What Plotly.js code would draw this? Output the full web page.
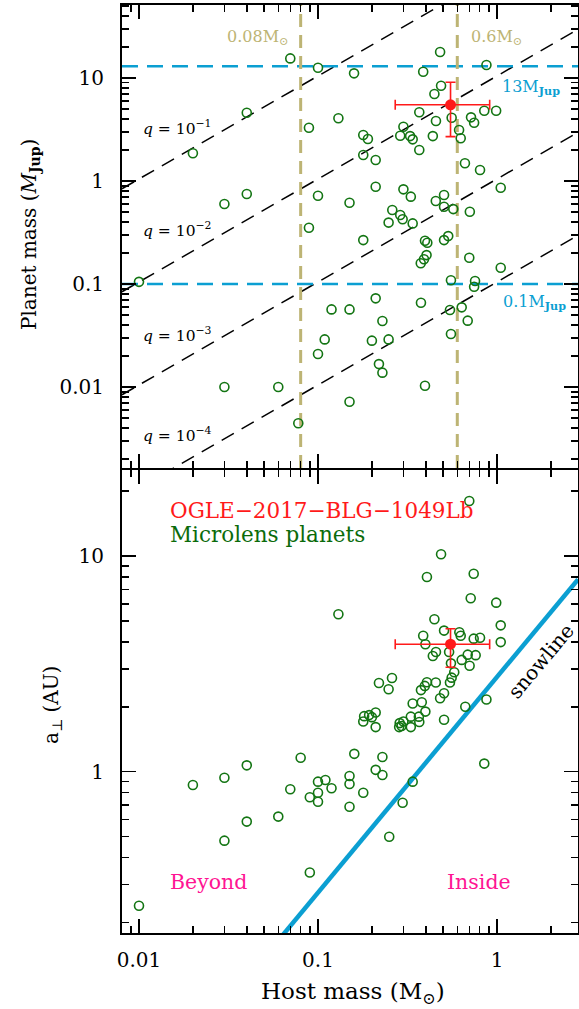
<!DOCTYPE html>
<html><head><meta charset="utf-8">
<script src="https://cdn.plot.ly/plotly-3.0.1.min.js"></script>
<style>html,body{margin:0;padding:0;background:#fff}#plot{width:579px;height:1009px}</style>
</head><body><div id="plot"></div>
<script>
// ---------- DATA ----------
// Top panel: host mass (M_sun) vs planet mass (M_Jup)
const hostMassTop = [0.070,0.481,0.100,0.159,0.387,0.873,0.487,0.447,0.130,0.089,
  0.368,0.456,0.558,0.716,0.745,0.849,0.989,0.300,0.288,0.327,
  0.338,0.438,0.614,0.627,0.179,0.190,0.368,0.179,0.210,0.662,
  0.804,1.049,0.210,0.300,0.330,0.100,0.150,0.455,0.506,0.506,
  0.570,0.705,0.260,0.288,0.297,0.248,0.338,0.089,0.179,0.396,
  0.408,0.506,0.534,0.700,0.404,0.391,0.375,1.049,0.553,0.754,
  0.745,0.210,0.376,0.119,0.150,0.546,0.635,0.229,0.686,0.109,
  0.200,0.248,0.553,0.100,0.219,0.229,0.396,0.060,0.150,0.0776,
  0.040,0.020,0.030,0.040,0.010,0.030];
const planetMass = [15.5,17.9,12.6,11.1,11.5,13.4,8.42,7.0,4.07,3.29,
  4.65,3.83,4.12,4.15,3.68,4.82,4.82,3.37,2.75,2.73,
  2.54,2.73,3.13,2.60,2.80,2.56,2.00,1.79,1.60,1.49,
  1.28,0.861,0.881,0.830,0.705,0.720,0.615,0.640,0.731,0.563,
  0.534,0.503,0.523,0.468,0.425,0.395,0.388,0.352,0.267,0.263,
  0.252,0.267,0.292,0.180,0.191,0.174,0.159,0.144,0.109,0.107,
  0.094,0.0726,0.0658,0.0567,0.0567,0.056,0.0594,0.0438,0.0441,0.0290,
  0.0282,0.029,0.0327,0.0209,0.0167,0.0138,0.0103,0.0100,0.0072,0.00445,
  4.6,1.86,0.598,0.748,0.105,0.0100];
// Bottom panel: host mass (M_sun) vs projected separation (AU)
const hostMassBottom = [0.487,0.406,0.741,0.713,0.990,0.130,0.447,1.049,1.049,0.506,
  0.616,0.627,0.387,0.398,0.741,0.804,0.540,0.553,0.456,0.438,
  0.686,0.760,0.635,0.703,0.577,0.558,0.546,0.259,0.219,0.248,
  0.406,0.455,0.395,0.376,0.506,0.481,0.380,0.338,0.665,0.873,
  0.398,0.210,0.181,0.193,0.200,0.179,0.210,0.330,0.366,0.368,
  0.506,0.286,0.293,0.284,0.300,0.330,0.700,0.080,0.040,0.030,
  0.020,0.1595,0.229,0.210,0.229,0.150,0.150,0.100,0.110,0.100,
  0.090,0.100,0.119,0.070,0.179,0.150,0.338,0.297,0.060,0.040,
  0.030,0.250,0.090,0.010,0.849];
const aPerp = [10.2,8.0,8.28,6.37,6.08,5.37,5.09,4.77,3.99,4.51,
  4.43,4.27,4.27,3.90,4.14,4.18,3.59,3.18,3.59,3.44,
  3.49,3.47,3.30,3.10,2.89,2.73,2.59,2.72,2.58,2.41,
  2.60,2.59,2.50,2.39,2.31,2.19,2.10,2.07,2.00,2.16,
  1.90,1.88,1.81,1.83,1.79,1.71,1.61,1.80,1.80,1.70,
  1.74,1.68,1.63,1.61,1.71,1.61,18.0,1.16,1.07,0.938,
  0.868,1.21,1.17,1.02,0.965,0.955,0.877,0.899,0.915,0.799,
  0.761,0.726,0.838,0.829,0.799,0.688,0.899,0.718,0.619,0.587,
  0.479,0.499,0.341,0.239,1.09];
// OGLE-2017-BLG-1049Lb
const ogleHost = [0.55], ogleHostErrPlus = [0.36], ogleHostErrMinus = [0.28];
const oglePlanet = [5.5], oglePlanetErrPlus = [3.6], oglePlanetErrMinus = [2.8];
const ogleA = [3.9], ogleAErrPlus = [0.7], ogleAErrMinus = [0.85];
// Reference lines
const massRatios = [1e-1, 1e-2, 1e-3, 1e-4];
const massRatioLabels = ['10<sup>−1</sup>','10<sup>−2</sup>','10<sup>−3</sup>','10<sup>−4</sup>'];
const hostLimits = [0.08, 0.6];
const planetLimits = [13, 0.1];
const snowlineCoef = 2.75; // AU per M_sun
const MSUN_IN_MJUP = 1047.6;
// Ticks
const xTickVals = [0.01, 0.1, 1], xTickText = ['0.01','0.1','1'];
const yTopTickVals = [0.01, 0.1, 1, 10], yTopTickText = ['0.01','0.1','1','10'];
const yBotTickVals = [1, 10], yBotTickText = ['1','10'];

// ---------- RANGES ----------
const xRange = [-2.095, 0.4525];
const yTopRange = [-2.786, 1.709];
const yBotRange = [-0.748, 1.399];
const xMin = Math.pow(10, xRange[0]), xMax = Math.pow(10, xRange[1]);
const yTopMin = Math.pow(10, yTopRange[0]), yTopMax = Math.pow(10, yTopRange[1]);

function minorTicks(lo, hi) {
  const out = [];
  for (let e = lo; e <= hi; e++) for (let d = 2; d <= 9; d++) out.push(d * Math.pow(10, e));
  return out;
}

const GREEN = '#137513', BLUE = '#0b9fd2', KHAKI = '#bdb474', RED = '#ff1a1a', PINK = '#ff1493';

const traces = [];
massRatios.forEach(q => traces.push({
  x: [xMin, xMax], y: [q * MSUN_IN_MJUP * xMin, q * MSUN_IN_MJUP * xMax],
  xaxis: 'x2', yaxis: 'y2', mode: 'lines', hoverinfo: 'skip',
  line: {color: 'black', width: 1.5, dash: '14px,9px'}
}));
planetLimits.forEach(p => traces.push({
  x: [xMin, xMax], y: [p, p], xaxis: 'x2', yaxis: 'y2', mode: 'lines', hoverinfo: 'skip',
  line: {color: BLUE, width: 2.5, dash: '16px,9px'}
}));
hostLimits.forEach(h => traces.push({
  x: [h, h], y: [yTopMin, yTopMax], xaxis: 'x2', yaxis: 'y2', mode: 'lines', hoverinfo: 'skip',
  line: {color: KHAKI, width: 3, dash: '13px,8px'}
}));
traces.push({
  x: [xMin, xMax], y: [snowlineCoef * xMin, snowlineCoef * xMax], xaxis: 'x', yaxis: 'y',
  mode: 'lines', hoverinfo: 'skip', line: {color: BLUE, width: 4.5}
});
traces.push({x: hostMassTop, y: planetMass, xaxis: 'x2', yaxis: 'y2', mode: 'markers',
  marker: {symbol: 'circle-open', size: 9, color: GREEN, line: {width: 1.6, color: GREEN}}});
traces.push({x: hostMassBottom, y: aPerp, xaxis: 'x', yaxis: 'y', mode: 'markers',
  marker: {symbol: 'circle-open', size: 9, color: GREEN, line: {width: 1.6, color: GREEN}}});
const errX = {type: 'data', symmetric: false, array: ogleHostErrPlus, arrayminus: ogleHostErrMinus, color: RED, thickness: 1.6, width: 5};
traces.push({x: ogleHost, y: oglePlanet, xaxis: 'x2', yaxis: 'y2', mode: 'markers',
  marker: {size: 11, color: RED}, error_x: errX,
  error_y: {type: 'data', symmetric: false, array: oglePlanetErrPlus, arrayminus: oglePlanetErrMinus, color: RED, thickness: 1.6, width: 5}});
traces.push({x: ogleHost, y: ogleA, xaxis: 'x', yaxis: 'y', mode: 'markers',
  marker: {size: 11, color: RED}, error_x: errX,
  error_y: {type: 'data', symmetric: false, array: ogleAErrPlus, arrayminus: ogleAErrMinus, color: RED, thickness: 1.6, width: 5}});

const axBase = {
  type: 'log', showgrid: false, zeroline: false, showline: true, linecolor: 'black', linewidth: 2,
  mirror: 'allticks', ticks: 'inside', ticklen: 14, tickwidth: 1.5, tickcolor: 'black',
  tickfont: {family: 'DejaVu Serif', size: 20, color: 'black'}
};
const FONT = 'DejaVu Serif';
const W = 579, H = 1009, ML = 122, MR = 1, MT = 5, MB = 76;
const PH = H - MT - MB;
const P = px => (px - ML) / (W - ML - MR);
const Q = py => (H - MB - py) / PH;

const ann = [];
function A(text, x, y, o) {
  ann.push(Object.assign({text: text, xref: 'paper', yref: 'paper', x: P(x), y: Q(y), showarrow: false,
    xanchor: 'center', yanchor: 'middle', font: {family: FONT, size: 16, color: 'black'}}, o || {}));
}
A('0.08M<sub>⊙</sub>', 257, 38, {font: {family: FONT, size: 16, color: KHAKI}});
A('0.6M<sub>⊙</sub>', 496, 38, {font: {family: FONT, size: 16, color: KHAKI}});
A('13M<sub><b>Jup</b></sub>', 531, 87, {font: {family: FONT, size: 16, color: BLUE}});
A('0.1M<sub><b>Jup</b></sub>', 534, 303, {font: {family: FONT, size: 16, color: BLUE}});
const qY = [127, 230, 334, 434];
massRatioLabels.forEach((l, i) => A('<i>q</i> = ' + l, 177, qY[i], {font: {family: FONT, size: 15.5, color: 'black'}}));
A('OGLE−2017−BLG−1049Lb', 168, 510, {xanchor: 'left', font: {family: FONT, size: 21.5, color: RED}});
A('Microlens planets', 168, 534, {xanchor: 'left', font: {family: FONT, size: 21.5, color: '#0b6b0b'}});
A('Beyond', 208, 882, {font: {family: FONT, size: 20.5, color: PINK}});
A('Inside', 479, 882, {font: {family: FONT, size: 20.5, color: PINK}});
A('snowline', 541, 661, {textangle: -50, font: {family: FONT, size: 20, color: 'black'}});
A('Planet mass (<i>M</i><sub><b>Jup</b></sub>)', 30, 235, {textangle: -90, font: {family: FONT, size: 20, color: 'black'}});
A('a<sub>⊥</sub> (AU)', 52, 705, {textangle: -90, font: {family: FONT, size: 20, color: 'black'}});
A('Host mass (M<sub>⊙</sub>)', 353, 993, {font: {family: FONT, size: 23, color: 'black'}});

const gap = 1 / PH;
const layout = {
  width: W, height: H, margin: {l: ML, r: MR, t: MT, b: MB, pad: 0},
  paper_bgcolor: 'white', plot_bgcolor: 'white', showlegend: false,
  font: {family: FONT, size: 20, color: 'black'},
  xaxis: Object.assign({}, axBase, {range: xRange, domain: [0, 1], anchor: 'y',
    tickvals: xTickVals, ticktext: xTickText, ticklabelstandoff: 8,
    minor: {tickvals: minorTicks(-3, 0), ticks: 'inside', ticklen: 7, tickwidth: 1.5, tickcolor: 'black'}}),
  xaxis2: Object.assign({}, axBase, {range: xRange, domain: [0, 1], anchor: 'y2', matches: 'x',
    tickvals: xTickVals, showticklabels: false,
    minor: {tickvals: minorTicks(-3, 0), ticks: 'inside', ticklen: 7, tickwidth: 1.5, tickcolor: 'black'}}),
  yaxis: Object.assign({}, axBase, {range: yBotRange, domain: [0, 0.5 - gap], anchor: 'x',
    tickvals: yBotTickVals, ticktext: yBotTickText, ticklabelstandoff: 12,
    minor: {tickvals: minorTicks(-1, 1), ticks: 'inside', ticklen: 7, tickwidth: 1.5, tickcolor: 'black'}}),
  yaxis2: Object.assign({}, axBase, {range: yTopRange, domain: [0.5 + gap, 1], anchor: 'x2',
    tickvals: yTopTickVals, ticktext: yTopTickText, ticklabelstandoff: 12,
    minor: {tickvals: minorTicks(-3, 1), ticks: 'inside', ticklen: 7, tickwidth: 1.5, tickcolor: 'black'}}),
  annotations: ann
};
Plotly.newPlot('plot', traces, layout, {staticPlot: true});
</script></body></html>
